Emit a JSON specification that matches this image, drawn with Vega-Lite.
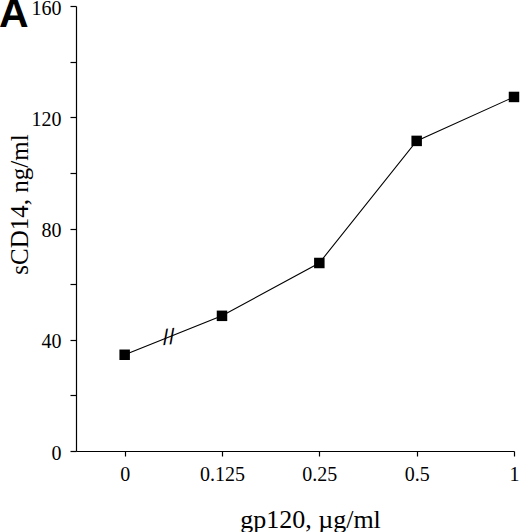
{
  "$schema": "https://vega.github.io/schema/vega-lite/v6.json",
  "autosize": "none",
  "width": 438,
  "height": 445,
  "padding": {"left": 76, "top": 6, "right": 6, "bottom": 81},
  "background": "white",
  "title": {
    "text": "A",
    "anchor": "start",
    "frame": "group",
    "orient": "top",
    "offset": 0,
    "dx": -77,
    "dy": 70,
    "baseline": "alphabetic",
    "font": "Liberation Sans",
    "fontSize": 41,
    "fontWeight": "bold",
    "color": "black"
  },
  "datasets": {
    "points": [
      {"dose": "0", "sCD14": 34.6},
      {"dose": "0.125", "sCD14": 48.6},
      {"dose": "0.25", "sCD14": 67.6},
      {"dose": "0.5", "sCD14": 111.5},
      {"dose": "1", "sCD14": 127.3}
    ],
    "axisbreak": [
      {"dose": "0", "sCD14": 40.9, "mark": "//"}
    ]
  },
  "encoding": {
    "x": {
      "field": "dose",
      "type": "nominal",
      "sort": null,
      "scale": {"type": "point", "domain": ["0", "0.125", "0.25", "0.5", "1"], "padding": 0.25, "align": 1},
      "axis": {
        "title": "gp120, µg/ml",
        "labelAngle": 0,
        "tickSize": 5,
        "labelPadding": 8,
        "titleX": 234,
        "titleY": 76,
        "titleFontSize": 26,
        "titleBaseline": "alphabetic",
        "titleAnchor": "middle"
      }
    },
    "y": {
      "field": "sCD14",
      "type": "quantitative",
      "scale": {"domain": [0, 160], "nice": false},
      "axis": {
        "title": "sCD14, ng/ml",
        "values": [0, 20, 40, 60, 80, 100, 120, 140, 160],
        "labelExpr": "datum.value % 40 === 0 ? datum.label : ''",
        "tickSize": 6,
        "labelPadding": 9,
        "labelOffset": 2,
        "grid": false,
        "titleX": -49,
        "titleY": 198,
        "titleFontSize": 25,
        "titleAngle": -90,
        "titleBaseline": "alphabetic",
        "titleAlign": "center"
      }
    }
  },
  "layer": [
    {
      "data": {"name": "points"},
      "mark": {"type": "line", "color": "black", "strokeWidth": 1.1}
    },
    {
      "data": {"name": "points"},
      "mark": {"type": "square", "color": "black", "filled": true, "opacity": 1, "size": 110}
    },
    {
      "data": {"name": "axisbreak"},
      "mark": {"type": "text", "dx": 44, "dy": 4, "font": "Liberation Sans", "fontSize": 22, "color": "black", "baseline": "middle", "align": "center", "angle": -5},
      "encoding": {"text": {"field": "mark"}}
    }
  ],
  "config": {
    "view": {"stroke": null},
    "axis": {
      "domainColor": "black",
      "domainWidth": 1.2,
      "tickColor": "black",
      "tickWidth": 1.2,
      "labelFont": "Liberation Serif",
      "labelFontSize": 20,
      "labelColor": "black",
      "titleFont": "Liberation Serif",
      "titleFontWeight": "normal",
      "titleColor": "black",
      "grid": false
    }
  }
}
